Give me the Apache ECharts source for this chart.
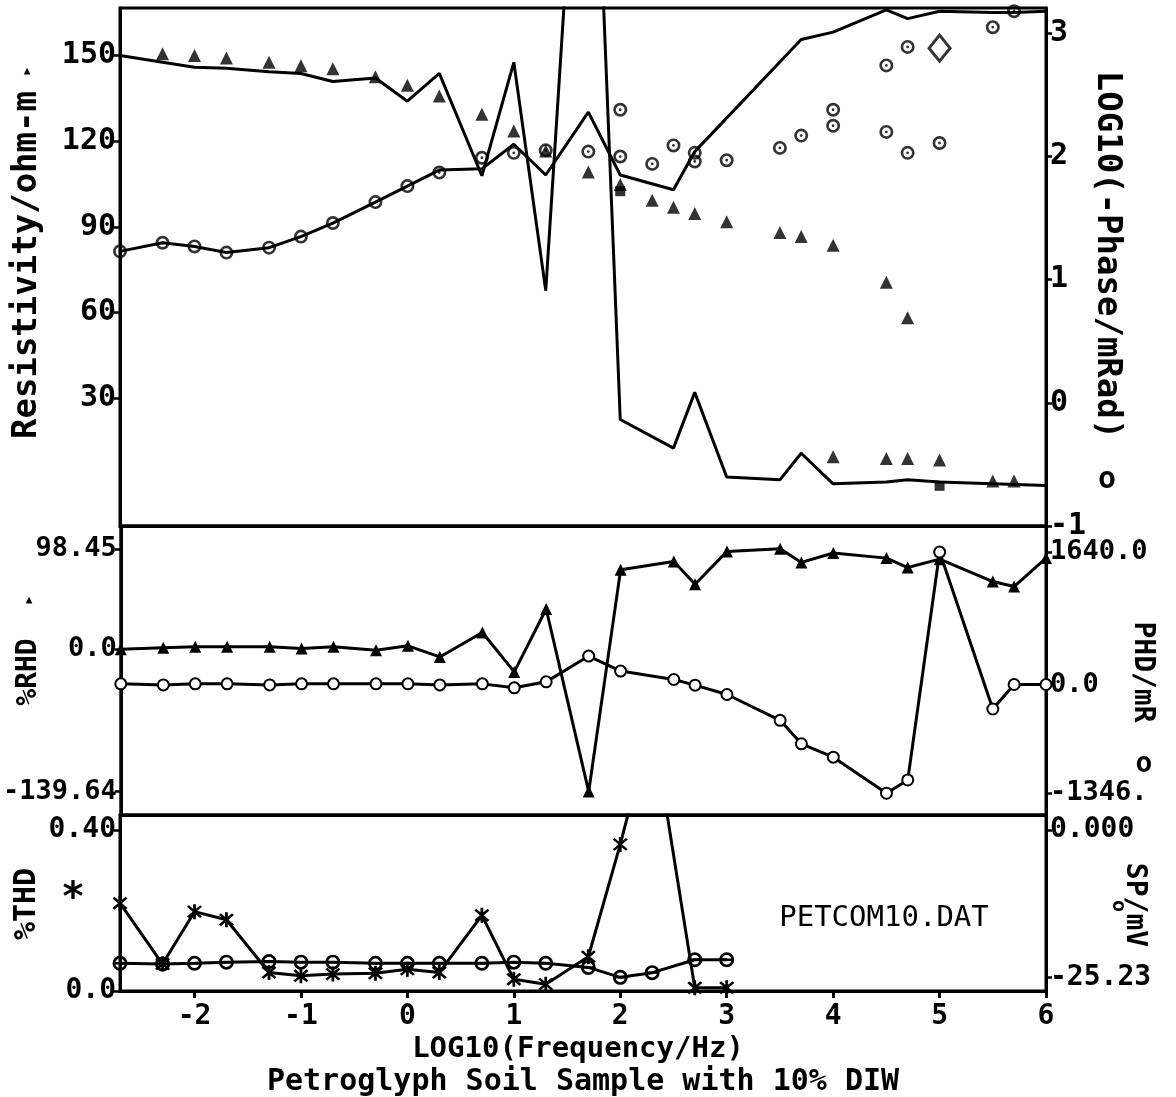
<!DOCTYPE html>
<html>
<head>
<meta charset="utf-8">
<script src="https://cdn.jsdelivr.net/npm/echarts/dist/echarts.min.js"></script>
<style>html,body{margin:0;padding:0;background:#fff;}#c{width:1176px;height:1097px;}</style>
</head>
<body>
<div id="c"></div>
<script>
// ---------- DATA ----------
// Top panel: resistivity (triangles, left axis) and LOG10 phase (circles, right axis)
const triX = [-2.3,-2,-1.7,-1.3,-1,-0.7,-0.3,0,0.3,0.7,1,1.3,1.7,2,2.3,2.5,2.7,3,3.5,3.7,4,4.5,4.7,4,4.5,4.7,5,5.5,5.7];
const triY = [150.6,150.0,149.1,147.6,146.4,145.3,142.5,139.6,135.8,129.4,123.6,116.6,109.2,104.8,99.3,96.9,94.7,91.8,88.0,86.6,83.6,70.6,58.2,9.6,9.0,9.0,8.4,1.1,1.1];
const sqX = [2, 5];
const sqY = [102.5, -0.6];
const circX = [-2.7,-2.3,-2,-1.7,-1.3,-1,-0.7,-0.3,0,0.3,0.7,1,1.3,1.7,2,2,2.3,2.5,2.7,2.7,3,3.5,3.7,4,4,4.5,4.5,4.7,4.7,5,5.5,5.7];
const circY = [1.23,1.30,1.27,1.22,1.26,1.35,1.46,1.63,1.76,1.87,1.99,2.03,2.05,2.04,2.38,2.0,1.94,2.09,2.03,1.96,1.97,2.07,2.17,2.38,2.25,2.74,2.20,2.89,2.03,2.11,3.05,3.18];
const diamondX = [5];
const diamondY = [2.88];
const lineAX = [-2.7,-2.3,-2,-1.7,-1.3,-1,-0.7,-0.3,0,0.3,0.7,1,1.3,1.7,2,2.5,2.7,3,3.5,3.7,4,4.5,4.7,5,5.5,6];
const lineAY = [150.0,147.6,145.9,145.5,144.3,143.7,140.9,142.1,134.0,143.7,107.9,147.6,67.7,300,22.6,12.6,32.1,2.5,1.5,10.8,0.1,0.7,1.5,0.7,0.1,-0.5];
const lineBX = [-2.7,-2.3,-2,-1.7,-1.3,-1,-0.7,-0.3,0,0.3,0.7,1,1.3,1.7,2,2.5,2.7,3.7,4,4.5,4.7,5,5.5,5.7,6];
const lineBY = [1.23,1.30,1.27,1.22,1.26,1.35,1.46,1.63,1.76,1.89,1.90,2.10,1.85,2.36,1.85,1.73,2.04,2.95,3.01,3.19,3.12,3.18,3.17,3.17,3.18];

// Middle panel: %RHD (triangles, left) and PHD/mR (circles, right)
const midX = [-2.7,-2.3,-2,-1.7,-1.3,-1,-0.7,-0.3,0,0.3,0.7,1,1.3,1.7,2,2.5,2.7,3,3.5,3.7,4,4.5,4.7,5,5.5,5.7,6];
const rhdY = [0,1.3,2.3,2.3,2.3,0.7,2.3,-1.0,3.3,-7.6,16.4,-22.3,39.4,-139.64,77.8,86.0,63.7,95.9,98.45,85.1,94.3,89.3,80.1,88.3,66.3,61.4,89.3];
const phdY = [8,-5,8,8,-5,8,8,8,8,-5,8,-41,33,352,166,62,-8,-124,-444,-734,-900,-1346,-1182,1640,-303,0,0];

// Bottom panel: %THD (stars, left) and SP/mV (circles, right)
const botX = [-2.7,-2.3,-2,-1.7,-1.3,-1,-0.7,-0.3,0,0.3,0.7,1,1.3,1.7,2,2.3,2.7,3];
const thdY = [0.218,0.067,0.197,0.177,0.046,0.038,0.042,0.044,0.054,0.046,0.188,0.029,0.017,0.085,0.364,0.67,0.008,0.008];
const spY = [-22.8,-22.9,-22.8,-22.6,-22.5,-22.6,-22.6,-22.8,-22.8,-22.8,-22.8,-22.6,-22.8,-23.5,-25.2,-24.4,-22.2,-22.2];

// Tick labels
const xTicks = [-2,-1,0,1,2,3,4,5,6];
const rhoTicks = [30,60,90,120,150];
const phaseTicks = [-1,0,1,2,3];
const rhdTicks = [98.45,0,-139.64];
const rhdTickLabels = ['98.45','0.0','-139.64'];
const phdTicks = [1640,0,-1346];
const phdTickLabels = ['1640.0','0.0','-1346.'];
const thdTicks = [0.4,0];
const thdTickLabels = ['0.40','0.0'];
const spTicks = [0,-25.23];
const spTickLabels = ['0.000','-25.23'];

// ---------- CHART ----------
const FONT = 'DejaVu Sans Mono';
const zip = (xs, ys) => xs.map((x, i) => [x, ys[i]]);
const BLACK = '#000';

const ringDot = 'path://M0,-10A10,10,0,1,1,0,10A10,10,0,1,1,0,-10Z M0,-6.2A6.2,6.2,0,1,0,0,6.2A6.2,6.2,0,1,0,0,-6.2Z M0,-2A2,2,0,1,1,0,2A2,2,0,1,1,0,-2Z';
const ringBar = 'path://M0,-10A10,10,0,1,1,0,10A10,10,0,1,1,0,-10Z M0,-6.4A6.4,6.4,0,1,0,0,6.4A6.4,6.4,0,1,0,0,-6.4Z M-6.5,-1.6L6.5,-1.6L6.5,1.6L-6.5,1.6Z';
const star = 'path://M-1.6,-10L1.6,-10L1.6,10L-1.6,10Z M-8.6,-6.4L-6.4,-8.6L8.6,6.4L6.4,8.6Z M6.4,-8.6L8.6,-6.4L-6.4,8.6L-8.6,6.4Z';

function lookup(ticks, labels) {
  return v => {
    for (let i = 0; i < ticks.length; i++) if (Math.abs(ticks[i] - v) < 1e-6) return labels[i];
    return '';
  };
}

const GL = 120, GR = 130;
const grids = [
  {left: GL, right: GR, top: 8, height: 518},
  {left: GL, right: GR, top: 526, height: 289},
  {left: GL, right: GR, top: 815, height: 176}
].map(g => Object.assign(g, {show: true, borderColor: BLACK, borderWidth: 3, backgroundColor: 'transparent', containLabel: false}));

function xAx(i, showLabels) {
  return {
    type: 'value', gridIndex: i, min: -2.7, max: 6,
    axisLine: {show: true, onZero: false, lineStyle: {color: BLACK, width: 3}},
    splitLine: {show: false},
    axisTick: showLabels ? {show: true, customValues: xTicks, length: 7, lineStyle: {color: BLACK, width: 3}} : {show: false},
    axisLabel: showLabels ? {show: true, customValues: xTicks, margin: 12, color: BLACK, fontFamily: FONT, fontWeight: 'bold', fontSize: 28} : {show: false}
  };
}
function yAx(i, pos, min, max, ticks, fmt, fs) {
  return {
    type: 'value', gridIndex: i, position: pos, min: min, max: max,
    axisLine: {show: true, onZero: false, lineStyle: {color: BLACK, width: 3}},
    splitLine: {show: false},
    axisTick: {show: true, customValues: ticks, length: 6, lineStyle: {color: BLACK, width: 2.5}},
    axisLabel: {show: true, customValues: ticks, formatter: fmt, margin: 4, color: BLACK, fontFamily: FONT, fontWeight: 'bold', fontSize: fs}
  };
}

const option = {
  animation: false,
  backgroundColor: '#fff',
  grid: grids,
  xAxis: [xAx(0, false), xAx(1, false), xAx(2, true)],
  yAxis: [
    yAx(0, 'left', -14.66, 166.6, rhoTicks, v => String(v), 30),
    yAx(0, 'right', -1, 3.206, phaseTicks, v => String(v), 30),
    yAx(1, 'left', -162.6, 120.8, rhdTicks, lookup(rhdTicks, rhdTickLabels), 27),
    yAx(1, 'right', -1616, 1963, phdTicks, lookup(phdTicks, phdTickLabels), 27),
    yAx(2, 'left', 0, 0.437, thdTicks, lookup(thdTicks, thdTickLabels), 28),
    yAx(2, 'right', -27.53, 2.53, spTicks, lookup(spTicks, spTickLabels), 28)
  ],
  series: [
    {type: 'line', xAxisIndex: 0, yAxisIndex: 0, data: zip(lineAX, lineAY), symbol: 'none', clip: true,
     lineStyle: {color: BLACK, width: 3}},
    {type: 'line', xAxisIndex: 0, yAxisIndex: 1, data: zip(lineBX, lineBY), symbol: 'none', clip: true,
     lineStyle: {color: BLACK, width: 3}},
    {type: 'scatter', xAxisIndex: 0, yAxisIndex: 0, data: zip(triX, triY), symbol: 'triangle', symbolSize: 13, clip: false,
     itemStyle: {color: BLACK}},
    {type: 'scatter', xAxisIndex: 0, yAxisIndex: 0, data: zip(sqX, sqY), symbol: 'rect', symbolSize: 10, clip: false,
     itemStyle: {color: BLACK}},
    {type: 'scatter', xAxisIndex: 0, yAxisIndex: 1, data: zip(circX, circY), symbol: ringDot, symbolSize: 14, clip: false,
     itemStyle: {color: BLACK}},
    {type: 'scatter', xAxisIndex: 0, yAxisIndex: 1, data: zip(diamondX, diamondY), symbol: 'diamond', symbolSize: [21, 26], clip: false,
     itemStyle: {color: '#fff', borderColor: BLACK, borderWidth: 3}},

    {type: 'line', xAxisIndex: 1, yAxisIndex: 2, data: zip(midX, rhdY), symbol: 'triangle', symbolSize: 12, clip: false,
     lineStyle: {color: BLACK, width: 3}, itemStyle: {color: BLACK}},
    {type: 'line', xAxisIndex: 1, yAxisIndex: 3, data: zip(midX, phdY), symbol: 'emptyCircle', symbolSize: 11, clip: false,
     lineStyle: {color: BLACK, width: 3}, itemStyle: {color: BLACK, borderColor: BLACK, borderWidth: 3}},

    {type: 'line', xAxisIndex: 2, yAxisIndex: 4, data: zip(botX, thdY), symbol: star, symbolSize: 15, clip: true,
     lineStyle: {color: BLACK, width: 3}, itemStyle: {color: BLACK}},
    {type: 'line', xAxisIndex: 2, yAxisIndex: 5, data: zip(botX, spY), symbol: ringBar, symbolSize: 15, clip: false,
     lineStyle: {color: BLACK, width: 3}, itemStyle: {color: BLACK}}
  ],
  graphic: [
    {type: 'text', x: 27, y: 265, rotation: Math.PI / 2, style: {text: 'Resistivity/ohm-m', font: 'bold 34px ' + FONT, fill: BLACK, textAlign: 'center', textVerticalAlign: 'middle'}},
    {type: 'text', x: 27, y: 71, style: {text: '▲', font: 'bold 11px ' + FONT, fill: BLACK, textAlign: 'center', textVerticalAlign: 'middle'}},
    {type: 'text', x: 1107, y: 255, rotation: -Math.PI / 2, style: {text: 'LOG10(-Phase/mRad)', font: 'bold 34px ' + FONT, fill: BLACK, textAlign: 'center', textVerticalAlign: 'middle'}},
    {type: 'text', x: 1107, y: 480, style: {text: 'o', font: 'bold 30px ' + FONT, fill: BLACK, textAlign: 'center', textVerticalAlign: 'middle'}},
    {type: 'text', x: 29, y: 672, rotation: Math.PI / 2, style: {text: '%RHD', font: 'bold 28px ' + FONT, fill: BLACK, textAlign: 'center', textVerticalAlign: 'middle'}},
    {type: 'text', x: 29, y: 600, style: {text: '▲', font: 'bold 11px ' + FONT, fill: BLACK, textAlign: 'center', textVerticalAlign: 'middle'}},
    {type: 'text', x: 1142, y: 672, rotation: -Math.PI / 2, style: {text: 'PHD/mR', font: 'bold 28px ' + FONT, fill: BLACK, textAlign: 'center', textVerticalAlign: 'middle'}},
    {type: 'text', x: 1144, y: 765, style: {text: 'o', font: 'bold 28px ' + FONT, fill: BLACK, textAlign: 'center', textVerticalAlign: 'middle'}},
    {type: 'text', x: 27, y: 904, rotation: Math.PI / 2, style: {text: '%THD', font: 'bold 30px ' + FONT, fill: BLACK, textAlign: 'center', textVerticalAlign: 'middle'}},
    {type: 'text', x: 73, y: 900, style: {text: '*', font: 'bold 40px ' + FONT, fill: BLACK, textAlign: 'center', textVerticalAlign: 'middle'}},
    {type: 'text', x: 1134, y: 905, rotation: -Math.PI / 2, style: {text: 'SP/mV', font: 'bold 28px ' + FONT, fill: BLACK, textAlign: 'center', textVerticalAlign: 'middle'}},
    {type: 'text', x: 1118, y: 906, rotation: -Math.PI / 2, style: {text: 'o', font: 'bold 20px ' + FONT, fill: BLACK, textAlign: 'center', textVerticalAlign: 'middle'}},
    {type: 'text', x: 884, y: 918, style: {text: 'PETCOM10.DAT', font: '29px ' + FONT, fill: BLACK, textAlign: 'center', textVerticalAlign: 'middle'}},
    {type: 'text', x: 578, y: 1049, style: {text: 'LOG10(Frequency/Hz)', font: 'bold 29px ' + FONT, fill: BLACK, textAlign: 'center', textVerticalAlign: 'middle'}},
    {type: 'text', x: 583, y: 1082, style: {text: 'Petroglyph Soil Sample with 10% DIW', font: 'bold 30px ' + FONT, fill: BLACK, textAlign: 'center', textVerticalAlign: 'middle'}}
  ]
};

const chart = echarts.init(document.getElementById('c'), null, {renderer: 'canvas'});
chart.setOption(option);
</script>
</body>
</html>
